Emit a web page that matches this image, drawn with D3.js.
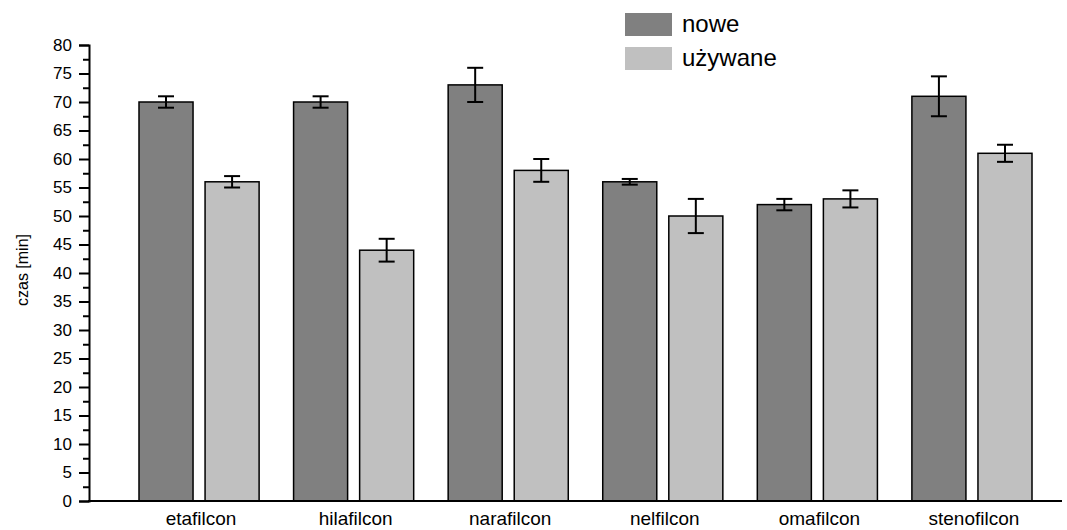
<!DOCTYPE html>
<html>
<head>
<meta charset="utf-8">
<script src="https://cdn.jsdelivr.net/npm/d3@7"></script>
<style>
	body { margin:0; background:#fff; }
	svg { font-family: "Liberation Sans", Arial, sans-serif; }
</style>
</head>
<body>
<svg id="chart" width="1067" height="530"></svg>
<script>
"use strict";

var categories = ['etafilcon','hilafilcon','narafilcon','nelfilcon','omafilcon','stenofilcon'];
var series = ['nowe','używane'];
var nowe = [70, 70, 73, 56, 52, 71];
var noweErr = [1, 1, 3, 0.5, 1, 3.5];
var uzywane = [56, 44, 58, 50, 53, 61];
var uzywaneErr = [1, 2, 2, 3, 1.5, 1.5];
var yMajor = d3.range(0, 81, 5);
var yMinor = d3.range(2.5, 80, 5);
var colors = {'nowe':'#808080', 'używane':'#c0c0c0'};

var svg = d3.select('#chart');

var y = d3.scaleLinear().domain([0,80]).range([501,45]);

var x0 = d3.scaleBand()
	.domain(categories)
	.range([139, 1032])
	.paddingInner(0.223)
	.paddingOuter(0);

var x1 = d3.scaleBand()
	.domain(series)
	.range([0, x0.bandwidth()])
	.paddingInner(0.182);

var rows = [];
for (var i=0; i<categories.length; i++) {
	rows.push({cat:categories[i], s:'nowe', v:nowe[i], e:noweErr[i]});
	rows.push({cat:categories[i], s:'używane', v:uzywane[i], e:uzywaneErr[i]});
}

// bars
svg.append('g').selectAll('rect')
	.data(rows).enter().append('rect')
	.attr('x', function(d){ return x0(d.cat)+x1(d.s); })
	.attr('y', function(d){ return y(d.v); })
	.attr('width', x1.bandwidth())
	.attr('height', function(d){ return y(0)-y(d.v); })
	.attr('fill', function(d){ return colors[d.s]; })
	.attr('stroke', '#000')
	.attr('stroke-width', 1.5);

// error bars
var eb = svg.append('g').attr('stroke','#000').attr('stroke-width',2);
rows.forEach(function(d){
	var cx = x0(d.cat)+x1(d.s)+x1.bandwidth()/2;
	eb.append('line').attr('x1',cx).attr('x2',cx).attr('y1',y(d.v+d.e)).attr('y2',y(d.v-d.e));
	eb.append('line').attr('x1',cx-8).attr('x2',cx+8).attr('y1',y(d.v+d.e)).attr('y2',y(d.v+d.e));
	eb.append('line').attr('x1',cx-8).attr('x2',cx+8).attr('y1',y(d.v-d.e)).attr('y2',y(d.v-d.e));
});

// y axis
var yAxis = svg.append('g')
	.attr('transform','translate(89,0)')
	.call(d3.axisLeft(y).tickValues(yMajor).tickSize(10).tickPadding(7).tickFormat(d3.format('d')));
yAxis.select('.domain').attr('stroke-width',2);
yAxis.selectAll('.tick line').attr('stroke-width',2);
yAxis.selectAll('.tick text').attr('font-size','17px').attr('fill','#000')
	.attr('font-family','"Liberation Sans", Arial, sans-serif');

var yMin = svg.append('g')
	.attr('transform','translate(89,0)')
	.call(d3.axisLeft(y).tickValues(yMinor).tickSize(6).tickFormat(''));
yMin.select('.domain').remove();
yMin.selectAll('.tick line').attr('stroke-width',2);

svg.append('text')
	.attr('transform','translate(28,270) rotate(-90)')
	.attr('text-anchor','middle')
	.attr('font-size','16px')
	.text('czas [min]');

// x axis
svg.append('line')
	.attr('x1',88).attr('x2',1062)
	.attr('y1',y(0)).attr('y2',y(0))
	.attr('stroke','#000').attr('stroke-width',2);

svg.append('g').selectAll('text')
	.data(categories).enter().append('text')
	.attr('x', function(d){ return x0(d)+x0.bandwidth()/2+2; })
	.attr('y', 525)
	.attr('text-anchor','middle')
	.attr('font-size','19px')
	.text(function(d){ return d; });

// legend
var leg = svg.append('g').selectAll('g')
	.data(series).enter().append('g')
	.attr('transform', function(d,i){ return 'translate(625,'+(13+i*34)+')'; });
leg.append('rect')
	.attr('width',47).attr('height',23)
	.attr('fill', function(d){ return colors[d]; });
leg.append('text')
	.attr('x',57).attr('y',19)
	.attr('font-size','24px')
	.text(function(d){ return d; });
</script>
</body>
</html>
